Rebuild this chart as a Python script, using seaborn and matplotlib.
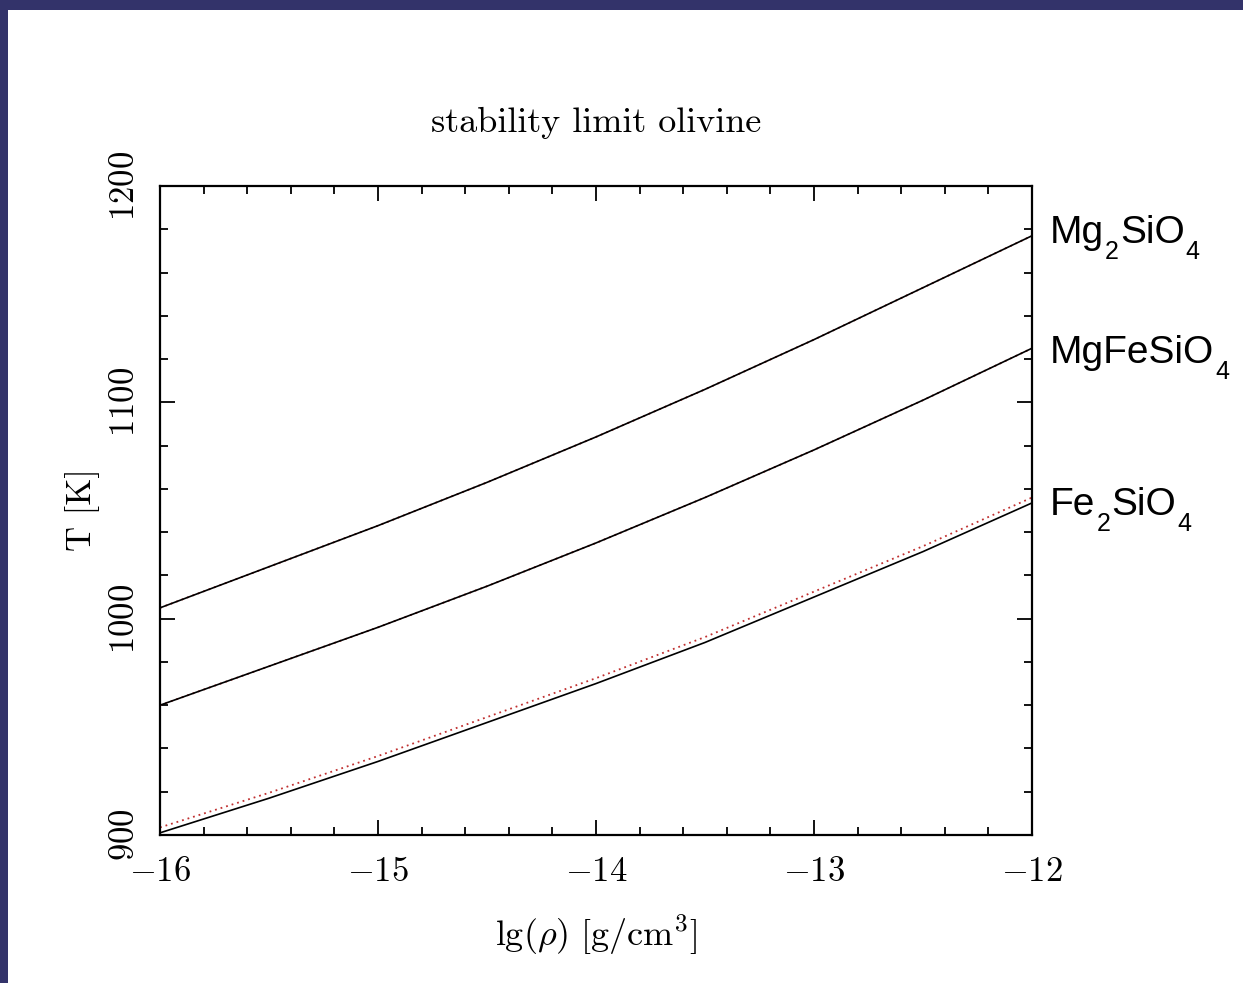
import numpy as np
import pandas as pd
import matplotlib
matplotlib.use("Agg")
import matplotlib.pyplot as plt
import seaborn as sns
from matplotlib.patches import Rectangle
from matplotlib.ticker import MultipleLocator

# ---------------- data ----------------
lg_rho = [-16.0, -15.5, -15.0, -14.5, -14.0, -13.5, -13.0, -12.5, -12.0]
T_mg2sio4 = [1005, 1024, 1043, 1063, 1084, 1106, 1129, 1153, 1177]
T_mgfesio4 = [960, 978, 996, 1015, 1035, 1056, 1078, 1101, 1125]
T_fe2sio4 = [901, 917, 934, 952, 970, 989, 1010, 1031, 1053.5]
# dotted (red) comparison curves
T_mg2sio4_dot = [1005, 1024, 1043, 1063, 1084, 1106, 1129, 1153, 1177]
T_mgfesio4_dot = [960, 978, 996, 1015, 1035, 1056, 1078, 1101, 1125]
T_fe2sio4_dot = [903.5, 919.5, 936.5, 954.5, 972.5, 991.5, 1012.5, 1033.5, 1056]

species = ["Mg2SiO4", "MgFeSiO4", "Fe2SiO4"]
# label pieces: (text, is_subscript)
species_label_parts = [
    [("Mg", False), ("2", True), ("SiO", False), ("4", True)],
    [("MgFeSiO", False), ("4", True)],
    [("Fe", False), ("2", True), ("SiO", False), ("4", True)],
]

x_ticks = [-16, -15, -14, -13, -12]
x_tick_labels = [r"$-16$", r"$-15$", r"$-14$", r"$-13$", r"$-12$"]
y_ticks = [900, 1000, 1100, 1200]
y_tick_labels = [r"$900$", r"$1000$", r"$1100$", r"$1200$"]

title = "stability limit olivine"
xlabel = r"$\mathrm{lg}(\rho)\ [\mathrm{g/cm}^3]$"
ylabel = "T [K]"

df_solid = pd.DataFrame({
    "lg_rho": lg_rho * 3,
    "T": T_mg2sio4 + T_mgfesio4 + T_fe2sio4,
    "species": sum([[s] * len(lg_rho) for s in species], []),
})
df_dot = pd.DataFrame({
    "lg_rho": lg_rho * 3,
    "T": T_mg2sio4_dot + T_mgfesio4_dot + T_fe2sio4_dot,
    "species": sum([[s] * len(lg_rho) for s in species], []),
})

# ---------------- style ----------------
sns.set_style("ticks")
plt.rcParams["mathtext.fontset"] = "cm"
plt.rcParams["font.family"] = ["DejaVu Serif"]
plt.rcParams["text.color"] = "black"
plt.rcParams["xtick.color"] = "black"
plt.rcParams["ytick.color"] = "black"
plt.rcParams["xtick.labelcolor"] = "black"
plt.rcParams["ytick.labelcolor"] = "black"

W, H = 1243, 983
fig = plt.figure(figsize=(W / 100, H / 100), dpi=100)
fig.patch.set_facecolor("white")

# frame bars
fig.patches.append(Rectangle((0, 1 - 10 / H), 1, 10 / H, transform=fig.transFigure,
                             facecolor="#33336a", edgecolor="none", zorder=0))
fig.patches.append(Rectangle((0, 0), 8 / W, 1, transform=fig.transFigure,
                             facecolor="#33336a", edgecolor="none", zorder=0))

L, R, T, B = 160, 1032, 186, 835
ax = fig.add_axes([L / W, 1 - B / H, (R - L) / W, (B - T) / H])

sns.lineplot(data=df_dot, x="lg_rho", y="T", units="species", estimator=None,
             color="#c03030", linewidth=1.3, linestyle=(0, (1, 2.2)), ax=ax,
             legend=False)
sns.lineplot(data=df_solid, x="lg_rho", y="T", units="species", estimator=None,
             color="black", linewidth=1.2, ax=ax, legend=False)

ax.set_xlim(-16, -12)
ax.set_ylim(900, 1200)
ax.set_xticks(x_ticks, x_tick_labels, fontsize=25)
ax.set_yticks(y_ticks, y_tick_labels, fontsize=25, rotation=90, va="center")
ax.xaxis.set_minor_locator(MultipleLocator(0.2))
ax.yaxis.set_minor_locator(MultipleLocator(20))
ax.tick_params(which="both", direction="in", top=True, right=True,
               color="black", width=1.3)
ax.tick_params(which="major", length=11, pad=14)
ax.tick_params(which="minor", length=6)
for sp in ax.spines.values():
    sp.set_linewidth(1.6)
    sp.set_color("black")
ax.set_xlabel("")
ax.set_ylabel("")

# axis labels and title
fig.text(596 / W, 1 - 935 / H, xlabel, fontsize=26, ha="center", va="center",
         color="black")
fig.text(82 / W, 1 - 510 / H, ylabel, family="cmr10", fontsize=25,
         rotation=90, ha="center", va="center", color="black")
fig.text(596 / W, 1 - 123 / H, title, family="cmr10", fontsize=26,
         ha="center", va="center", color="black")

# species labels at right (with lowered subscripts)
renderer = fig.canvas.get_renderer()
label_pos = [(1050, 243), (1050, 363), (1050, 515)]
for parts, (px, py) in zip(species_label_parts, label_pos):
    x = px
    for txt, sub in parts:
        yy = py + (16 if sub else 0)
        t = fig.text(x / W, 1 - yy / H, txt, family="Liberation Sans",
                     fontsize=18 if sub else 28, ha="left", va="baseline",
                     color="black")
        bb = t.get_window_extent(renderer=renderer)
        x += bb.width + 1

fig.savefig("out.png", dpi=100)
